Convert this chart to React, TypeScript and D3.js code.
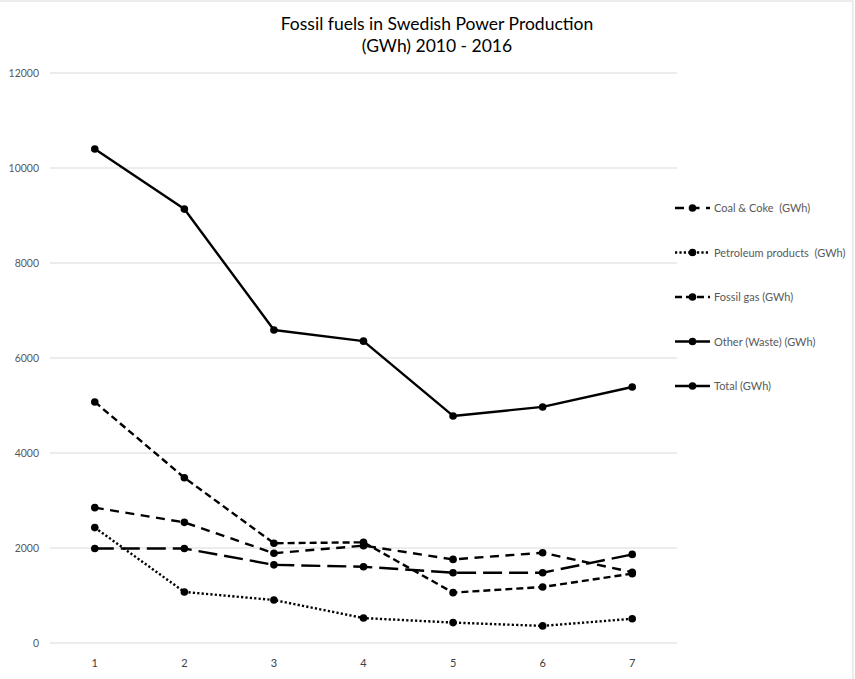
import * as d3 from "d3";

const YEARS = ["1", "2", "3", "4", "5", "6", "7"];
const Y_TICKS = [0, 2000, 4000, 6000, 8000, 10000, 12000];

const COAL = [2850, 2540, 1890, 2050, 1760, 1900, 1490];
const PETROLEUM = [2430, 1075, 905, 525, 430, 360, 510];
const GAS = [5075, 3480, 2100, 2120, 1060, 1180, 1460];
const WASTE = [1990, 1990, 1645, 1605, 1480, 1480, 1865];
const TOTAL = [10400, 9135, 6590, 6355, 4780, 4970, 5390];

const SERIES = [
  { name: "Coal & Coke  (GWh)", values: COAL, dash: "9,6.5" },
  { name: "Petroleum products  (GWh)", values: PETROLEUM, dash: "2.2,2.2" },
  { name: "Fossil gas (GWh)", values: GAS, dash: "7,4" },
  { name: "Other (Waste) (GWh)", values: WASTE, dash: "19,7" },
  { name: "Total (GWh)", values: TOTAL, dash: "none" },
];

const W = 855;
const H = 679;
const FONT = "Lato, 'Open Sans', sans-serif";

export default function App() {
  const x = d3.scaleBand().domain(YEARS).range([50, 677]);
  const y = d3.scaleLinear().domain([0, 12000]).range([643, 73]);
  const line = d3
    .line<number>()
    .x((_, i) => x(YEARS[i])! + x.bandwidth() / 2)
    .y((d) => y(d));

  const legendY = d3
    .scalePoint<string>()
    .domain(SERIES.map((s) => s.name))
    .range([208, 386]);

  return (
    <svg
      width={W}
      height={H}
      style={{ position: "absolute", left: 0, top: 0, background: "#fff" }}
      fontFamily={FONT}
    >
      <rect x={-1} y={1} width={W - 1} height={H + 2} fill="#fff" stroke="#d9d9d9" />
      <text x={437} y={30} textAnchor="middle" fontSize={17.5} fill="#000">
        Fossil fuels in Swedish Power Production
      </text>
      <text x={437} y={52} textAnchor="middle" fontSize={17.5} fill="#000">
        (GWh) 2010 - 2016
      </text>

      {Y_TICKS.map((t) => (
        <g key={t}>
          <line x1={50} x2={677} y1={y(t)} y2={y(t)} stroke="#d9d9d9" strokeWidth={1} />
          <text x={39} y={y(t) + 4} textAnchor="end" fontSize={10.5} fill="#595959">
            {t}
          </text>
        </g>
      ))}

      {YEARS.map((c) => (
        <text
          key={c}
          x={x(c)! + x.bandwidth() / 2}
          y={667}
          textAnchor="middle"
          fontSize={11}
          fill="#404040"
        >
          {c}
        </text>
      ))}

      {SERIES.map((s) => (
        <g key={s.name}>
          <path
            d={line(s.values) ?? ""}
            fill="none"
            stroke="#000"
            strokeWidth={2.4}
            strokeDasharray={s.dash}
            strokeLinejoin="round"
          />
          {s.values.map((v, i) => (
            <circle
              key={i}
              cx={x(YEARS[i])! + x.bandwidth() / 2}
              cy={y(v)}
              r={3.8}
              fill="#000"
            />
          ))}
        </g>
      ))}

      {SERIES.map((s) => {
        const ly = legendY(s.name)!;
        return (
          <g key={s.name}>
            <line
              x1={675}
              x2={710}
              y1={ly}
              y2={ly}
              stroke="#000"
              strokeWidth={2.4}
              strokeDasharray={s.dash === "19,7" ? "none" : s.dash}
            />
            <circle cx={692.5} cy={ly} r={3.8} fill="#000" />
            <text
              x={714}
              y={ly + 4}
              fontSize={11}
              fill="#595959"
              style={{ whiteSpace: "pre" }}
            >
              {s.name}
            </text>
          </g>
        );
      })}
    </svg>
  );
}
